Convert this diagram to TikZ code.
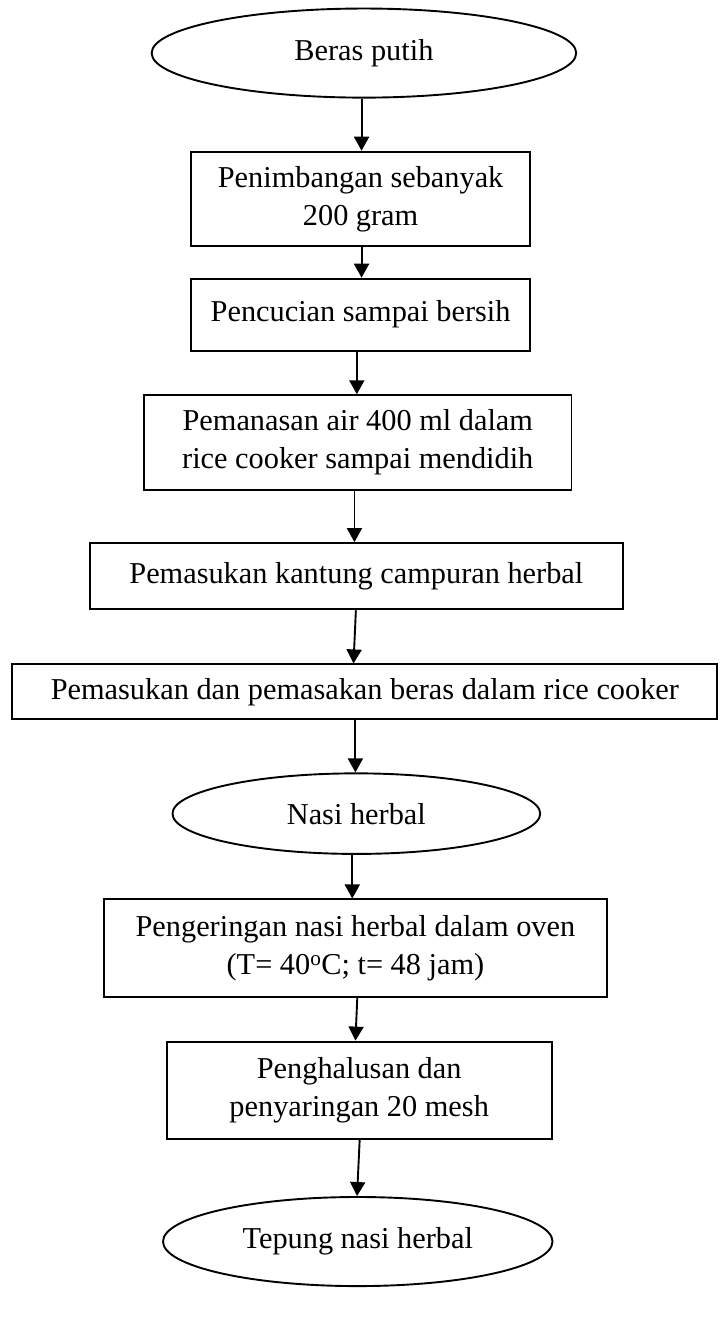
\documentclass[tikz,border=0pt]{standalone}
\usepackage{fontspec}
\setmainfont{Liberation Serif}
\usetikzlibrary{shapes.geometric,arrows.meta}
\begin{document}
\begin{tikzpicture}[scale=0.9479, x=1pt, y=-1pt,
  every node/.style={font=\fontsize{32}{40}\selectfont, align=center, inner sep=0pt, transform shape},
  procbox/.style={draw, line width=1.9pt, rectangle},
  termel/.style={draw, line width=1.9pt, ellipse},
  arr/.style={line width=1.9pt, -{Triangle[length=14pt,width=15pt]}}]
\useasboundingbox (0,0) rectangle (768,1416);
\node[termel, minimum width=448, minimum height=94] (e1) at (384,56) {Beras putih};
\node[procbox, minimum width=357, minimum height=100] (b2) at (380.5,210) {Penimbangan sebanyak\\200 gram};
\node[procbox, minimum width=357, minimum height=76] (b3) at (380.5,332) {\raisebox{6pt}{Pencucian sampai bersih}};
\node[procbox, minimum width=451, minimum height=100] (b4) at (377.5,467) {Pemanasan air 400 ml dalam\\rice cooker sampai mendidih};
\node[procbox, minimum width=562, minimum height=70] (b5) at (376,608) {Pemasukan kantung campuran herbal};
\node[procbox, minimum width=744, minimum height=58] (b6) at (385,730) {Pemasukan dan pemasakan beras dalam rice cooker};
\node[termel, minimum width=388, minimum height=85] (e2) at (376,858.5) {Nasi herbal};
\node[procbox, minimum width=530, minimum height=103] (b7) at (375,1000.5) {Pengeringan nasi herbal dalam oven\\(T= 40\textsuperscript{o}C; t= 48 jam)};
\node[procbox, minimum width=406, minimum height=103] (b8) at (379,1150.5) {Penghalusan dan\\penyaringan 20 mesh};
\node[termel, minimum width=411, minimum height=94] (e3) at (377.5,1310) {Tepung nasi herbal};
\draw[arr] (381.5,0 |- e1.south) -- (381.5,0 |- b2.north);
\draw[arr] (381.5,0 |- b2.south) -- (381.5,0 |- b3.north);
\draw[arr] (376.5,0 |- b3.south) -- (376.5,0 |- b4.north);
\draw[arr] (374,0 |- b4.south) -- (374,0 |- b5.north);
\draw[arr] (375.5,0 |- b5.south) -- (373,0 |- b6.north);
\draw[arr] (375,0 |- b6.south) -- (375,0 |- e2.north);
\draw[arr] (371.7,0 |- e2.south) -- (371.7,0 |- b7.north);
\draw[arr] (377,0 |- b7.south) -- (375,0 |- b8.north);
\draw[arr] (379.5,0 |- b8.south) -- (376.7,0 |- e3.north);
\end{tikzpicture}
\end{document}
